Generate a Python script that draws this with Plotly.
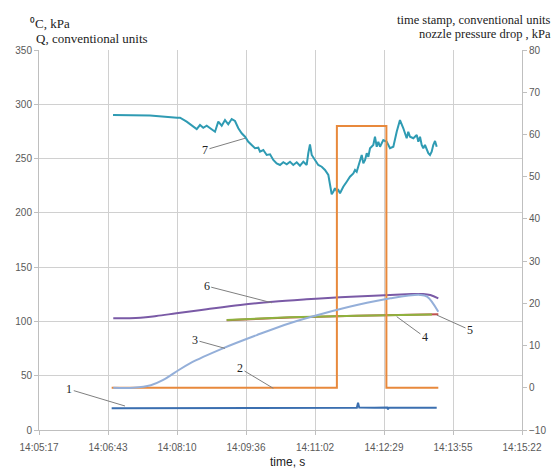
import plotly.graph_objects as go

# ---------------- data ----------------
# time axis: seconds after 14:05:17, ticks every 86.4 s
tick_step = 86.4
tick_labels = ["14:05:17", "14:06:43", "14:08:10", "14:09:36",
               "14:11:02", "14:12:29", "14:13:55", "14:15:22"]
left_ticks = [0, 50, 100, 150, 200, 250, 300, 350]
right_ticks = [-10, 0, 10, 20, 30, 40, 50, 60, 70, 80]

# 1 - left axis
t1 = [91, 140, 200, 260, 320, 370, 398, 399.5, 401, 420, 436, 437, 438, 470, 498]
v1 = [20.0, 20.1, 20.2, 20.3, 20.4, 20.5, 20.5, 25.0, 20.6, 20.5, 20.6, 19.0, 20.5, 20.6, 20.6]

# 2 - time stamp (right axis)
t2 = [91, 373, 373, 435, 435, 500]
v2 = [0, 0, 62, 62, 0, 0]

# 3 - right axis
t3 = [93, 118, 140, 155, 170, 189, 231, 273, 314, 356, 398, 440, 477, 486, 500]
v3 = [0, 0, 0.6, 1.8, 3.6, 5.8, 9.4, 12.5, 15.3, 17.6, 19.6, 21.2, 22.0, 21.6, 18.0]

# 6 - left axis
t6 = [93, 127, 147, 172, 210, 252, 293, 335, 377, 419, 460, 481, 490, 500]
v6 = [102.9, 103.4, 105.0, 107.5, 111.2, 115.1, 118.2, 120.4, 122.2, 123.7, 125.0, 125.3, 124.3, 121.3]

# 5 - nozzle pressure drop (drawn in left-axis units)
t5 = [235, 314, 398, 500]
v5 = [101.0, 103.6, 105.2, 106.5]

# 4 - left axis
t4 = [235, 314, 398, 492]
v4 = [101.3, 103.8, 105.3, 106.4]

# 7 - left axis
t7 = [92.7, 139.0, 172.8, 176.6, 184.9, 193.2, 197.5, 201.6, 205.7, 210.0, 214.1, 220.4, 224.5,
      228.8, 232.9, 237.0, 241.3, 245.4, 249.6, 253.8, 258.0, 262.1, 266.3, 270.5, 274.6, 276.7,
      280.9, 285.1, 289.3, 293.4, 297.6, 301.8, 305.9, 310.2, 314.3, 318.4, 322.7, 326.8, 331.0,
      335.2, 337.2, 339.3, 341.5, 345.6, 349.7, 354.0, 358.1, 362.3, 364.4, 366.5, 368.5, 370.6,
      372.8, 374.8, 376.9, 381.0, 385.3, 389.4, 393.6, 395.7, 397.8, 402.0, 404.1, 406.1, 408.3,
      410.4, 412.4, 414.5, 418.6, 420.7, 422.9, 424.9, 427.0, 431.1, 435.4, 439.5, 443.7, 447.9,
      452.0, 456.2, 460.4, 462.4, 464.6, 468.7, 473.0, 475.0, 477.1, 479.2, 481.2, 483.3, 487.5,
      489.6, 491.7, 493.7, 495.9, 498.0]
v7 = [290.1, 289.7, 287.6, 287.6, 284.0, 279.4, 277.2, 280.9, 278.4, 280.3, 277.9, 274.7, 284.0,
      280.3, 285.5, 281.6, 286.4, 284.6, 277.9, 273.3, 270.1, 265.5, 262.5, 259.5, 260.0, 256.3,
      257.9, 253.3, 253.9, 248.7, 245.6, 244.1, 246.6, 244.7, 247.1, 244.1, 246.6, 243.4, 247.1,
      244.1, 254.9, 263.1, 253.3, 248.7, 244.1, 242.5, 239.5, 234.9, 227.2, 217.1, 219.5, 222.6,
      220.1, 221.1, 218.0, 224.1, 228.7, 233.3, 236.4, 239.5, 237.9, 247.1, 253.3, 245.6, 248.7,
      254.9, 251.7, 259.5, 262.5, 270.1, 260.9, 265.5, 260.9, 267.1, 265.5, 259.5, 260.9, 274.7,
      285.5, 277.9, 268.7, 274.7, 270.1, 268.7, 271.7, 265.5, 270.1, 262.5, 259.5, 262.5, 254.9,
      253.3, 256.3, 262.5, 266.2, 260.9]

# label annotations: (text, point t, point value, label t, label value) on left axis
labels = [
    ("1", 107.7, 22.1, 37.9, 37.5),
    ("2", 293.4, 38.4, 251.7, 56.8),
    ("3", 232.9, 75.2, 195.3, 82.9),
    ("6", 291.4, 117.2, 210.0, 132.6),
    ("4", 447.9, 104.4, 483.3, 85.4),
    ("5", 498.0, 105.9, 539.7, 92.1),
    ("7", 258.0, 268.7, 207.9, 257.9),
]

# ---------------- figure ----------------
fig = go.Figure()

fig.add_trace(go.Scatter(x=t1, y=v1, mode="lines",
                         line=dict(color="#3b6fb0", width=2)))
fig.add_trace(go.Scatter(x=t6, y=v6, mode="lines",
                         line=dict(color="#7a5aa6", width=2, shape="spline")))
fig.add_trace(go.Scatter(x=t5, y=v5, mode="lines",
                         line=dict(color="#c0504d", width=2)))
fig.add_trace(go.Scatter(x=t4, y=v4, mode="lines",
                         line=dict(color="#8fb23e", width=2)))
fig.add_trace(go.Scatter(x=t7, y=v7, mode="lines",
                         line=dict(color="#2f9bb3", width=2)))
fig.add_trace(go.Scatter(x=t2, y=v2, mode="lines", yaxis="y2",
                         line=dict(color="#e8893c", width=2)))
fig.add_trace(go.Scatter(x=t3, y=v3, mode="lines", yaxis="y2",
                         line=dict(color="#94afd9", width=2, shape="spline")))

grid = "#d0d0d0"
axis_c = "#bfbfbf"
tick_font = dict(family="Liberation Sans, Arial, sans-serif", size=10, color="#595959")

annotations = []
for txt, x, y, ax, ay in labels:
    annotations.append(dict(x=x, y=y, ax=ax, ay=ay, xref="x", yref="y", axref="x", ayref="y",
                            text=txt, showarrow=True, arrowhead=0, arrowwidth=1,
                            arrowcolor="#7f7f7f",
                            font=dict(family="Liberation Serif, Times New Roman, serif",
                                      size=12, color="#222222")))

serif = dict(family="Liberation Serif, Times New Roman, serif", size=13, color="#222222")
serif_r = dict(family="Liberation Serif, Times New Roman, serif", size=12.5, color="#222222")
annotations += [
    dict(text="⁰C, kPa", xref="paper", yref="paper", x=-0.0228, y=1.071,
         xanchor="left", yanchor="middle", showarrow=False, font=serif),
    dict(text="Q, conventional units", xref="paper", yref="paper", x=-0.010, y=1.031,
         xanchor="left", yanchor="middle", showarrow=False, font=serif),
    dict(text="time stamp, conventional units", xref="paper", yref="paper", x=1.064, y=1.079,
         xanchor="right", yanchor="middle", showarrow=False, font=serif_r),
    dict(text="nozzle pressure drop , kPa", xref="paper", yref="paper", x=1.064, y=1.042,
         xanchor="right", yanchor="middle", showarrow=False, font=serif_r),
    dict(text="time, s", xref="paper", yref="paper", x=0.514, y=-0.084,
         xanchor="center", yanchor="middle", showarrow=False,
         font=dict(family="Liberation Sans, Arial, sans-serif", size=12, color="#222222")),
]

fig.update_layout(
    width=559, height=469,
    margin=dict(l=39, r=37, t=50, b=39, autoexpand=False),
    paper_bgcolor="white", plot_bgcolor="white",
    showlegend=False,
    xaxis=dict(range=[0, tick_step * (len(tick_labels) - 1)],
               tickvals=[i * tick_step for i in range(len(tick_labels))],
               ticktext=tick_labels, showgrid=True, gridcolor=grid, gridwidth=1,
               showline=True, linecolor=axis_c, linewidth=1, ticks="outside", ticklen=4,
               tickcolor=axis_c, zeroline=False, tickfont=tick_font, ticklabelstandoff=4),
    yaxis=dict(range=[0, 350], tickvals=left_ticks, showgrid=True, gridcolor=grid,
               showline=True, linecolor=axis_c, linewidth=1, ticks="outside", ticklen=4,
               tickcolor=axis_c, zeroline=False, tickfont=tick_font),
    yaxis2=dict(range=[-10, 80], tickvals=right_ticks, overlaying="y", side="right",
                showgrid=False, showline=True, linecolor=axis_c, linewidth=1,
                ticks="outside", ticklen=4, tickcolor=axis_c, zeroline=False,
                tickfont=tick_font),
    annotations=annotations,
)

fig.write_html("out.html", config={"displayModeBar": False},
               post_script="document.body.style.margin='0';document.body.style.overflow='hidden';")
